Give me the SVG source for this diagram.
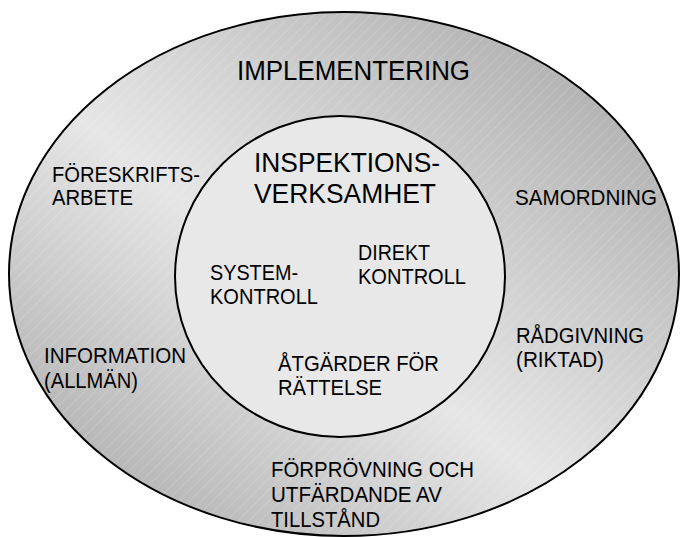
<svg xmlns="http://www.w3.org/2000/svg" width="683" height="537" viewBox="0 0 683 537">
<defs>
<linearGradient id="outerGrad" x1="0" y1="1" x2="1" y2="0">
<stop offset="0" stop-color="#a2a2a2"/>
<stop offset="0.45" stop-color="#e6e6e6"/>
<stop offset="1" stop-color="#a2a2a2"/>
</linearGradient>
<pattern id="hatch" width="8" height="8" patternUnits="userSpaceOnUse" patternTransform="rotate(45)">
<line x1="0" y1="0" x2="0" y2="8" stroke="#ffffff" stroke-width="0.8" stroke-opacity="0.35"/>
</pattern>
</defs>
<style>
.ring{stroke:#000;stroke-width:2}
.big{font-family:"Liberation Sans",Arial,sans-serif;font-size:28px;fill:#000}
.sm{font-family:"Liberation Sans",Arial,sans-serif;font-size:22px;fill:#000}
</style>
<rect width="683" height="537" fill="#ffffff"/>
<g id="implementering">
<ellipse cx="344" cy="274" rx="335" ry="262" fill="url(#outerGrad)"/>
<ellipse cx="344" cy="274" rx="335" ry="262" fill="url(#hatch)" class="ring"/>
<text class="big" x="237" y="80" textLength="233" lengthAdjust="spacingAndGlyphs">IMPLEMENTERING</text>
</g>
<g id="foreskriftsarbete">
<text class="sm" x="52" y="182" textLength="148" lengthAdjust="spacingAndGlyphs">FÖRESKRIFTS-</text>
<text class="sm" x="52" y="205" textLength="81" lengthAdjust="spacingAndGlyphs">ARBETE</text>
</g>
<g id="samordning">
<text class="sm" x="515" y="205" textLength="142" lengthAdjust="spacingAndGlyphs">SAMORDNING</text>
</g>
<g id="radgivning">
<text class="sm" x="516" y="343" textLength="128" lengthAdjust="spacingAndGlyphs">RÅDGIVNING</text>
<text class="sm" x="516" y="367" textLength="88" lengthAdjust="spacingAndGlyphs">(RIKTAD)</text>
</g>
<g id="information">
<text class="sm" x="44" y="363" textLength="142" lengthAdjust="spacingAndGlyphs">INFORMATION</text>
<text class="sm" x="44" y="388" textLength="94" lengthAdjust="spacingAndGlyphs">(ALLMÄN)</text>
</g>
<g id="forprovning">
<text class="sm" x="271" y="477" textLength="203" lengthAdjust="spacingAndGlyphs">FÖRPRÖVNING OCH</text>
<text class="sm" x="271" y="502" textLength="171" lengthAdjust="spacingAndGlyphs">UTFÄRDANDE AV</text>
<text class="sm" x="271" y="527" textLength="109" lengthAdjust="spacingAndGlyphs">TILLSTÅND</text>
</g>
<g id="inspektionsverksamhet">
<ellipse cx="340" cy="276.5" rx="165" ry="160.5" fill="#e8e8e8" class="ring"/>
<text class="big" x="254" y="172" textLength="186" lengthAdjust="spacingAndGlyphs">INSPEKTIONS-</text>
<text class="big" x="254" y="203" textLength="182" lengthAdjust="spacingAndGlyphs">VERKSAMHET</text>
</g>
<g id="direktkontroll">
<text class="sm" x="358" y="260" textLength="72" lengthAdjust="spacingAndGlyphs">DIREKT</text>
<text class="sm" x="358" y="284" textLength="108" lengthAdjust="spacingAndGlyphs">KONTROLL</text>
</g>
<g id="systemkontroll">
<text class="sm" x="210" y="280" textLength="88" lengthAdjust="spacingAndGlyphs">SYSTEM-</text>
<text class="sm" x="210" y="304" textLength="108" lengthAdjust="spacingAndGlyphs">KONTROLL</text>
</g>
<g id="atgarder">
<text class="sm" x="278" y="371" textLength="161" lengthAdjust="spacingAndGlyphs">ÅTGÄRDER FÖR</text>
<text class="sm" x="278" y="395" textLength="104" lengthAdjust="spacingAndGlyphs">RÄTTELSE</text>
</g>
<g id="connectors"/>
</svg>
